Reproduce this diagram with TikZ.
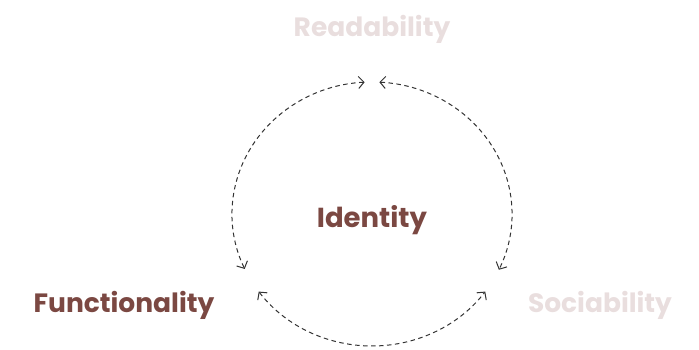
\documentclass[tikz,border=0pt]{standalone}
\usepackage{fontspec}
\setmainfont{Poppins}
\usetikzlibrary{arrows.meta,calc}
\definecolor{darkbrown}{HTML}{7B4842}
\definecolor{lightrose}{HTML}{E9DEDE}
\definecolor{linegrey}{HTML}{333333}
\tikzset{
  label/.style={font=\fontsize{26.5}{30}\selectfont\bfseries, anchor=base, inner sep=0pt},
  strong/.style={label, text=darkbrown},
  faded/.style={label, text=lightrose},
  link/.style={draw=linegrey, line width=1pt, dash pattern=on 4.5pt off 3.5pt,
    {Straight Barb[length=5.5pt,width=12pt]}-{Straight Barb[length=5.5pt,width=12pt]}}
}
\begin{document}
\begin{tikzpicture}[x=1pt,y=1pt]
\useasboundingbox (0,0) rectangle (699,350);
\coordinate (c) at (372,136);
\node[faded] (read) at (372,313) {Readability};
\node[strong, font=\fontsize{27.5}{30}\selectfont\bfseries] (ident) at (372,122) {Identity};
\node[strong] (func) at (124,37) {Functionality};
\node[faded] (soc) at (600,37) {Sociability};
\coordinate (lt) at ($(c)+(93:140 and 132)$);
\coordinate (rt) at ($(c)+(87:140 and 132)$);
\coordinate (bl) at ($(c)+(216:140 and 132)$);
\draw[link] (lt) arc[start angle=93, end angle=204.6, x radius=140, y radius=132];
\draw[link] (rt) arc[start angle=87, end angle=-25, x radius=140, y radius=132];
\draw[link] (bl) arc[start angle=216, end angle=324, x radius=140, y radius=132];
\end{tikzpicture}
\end{document}
